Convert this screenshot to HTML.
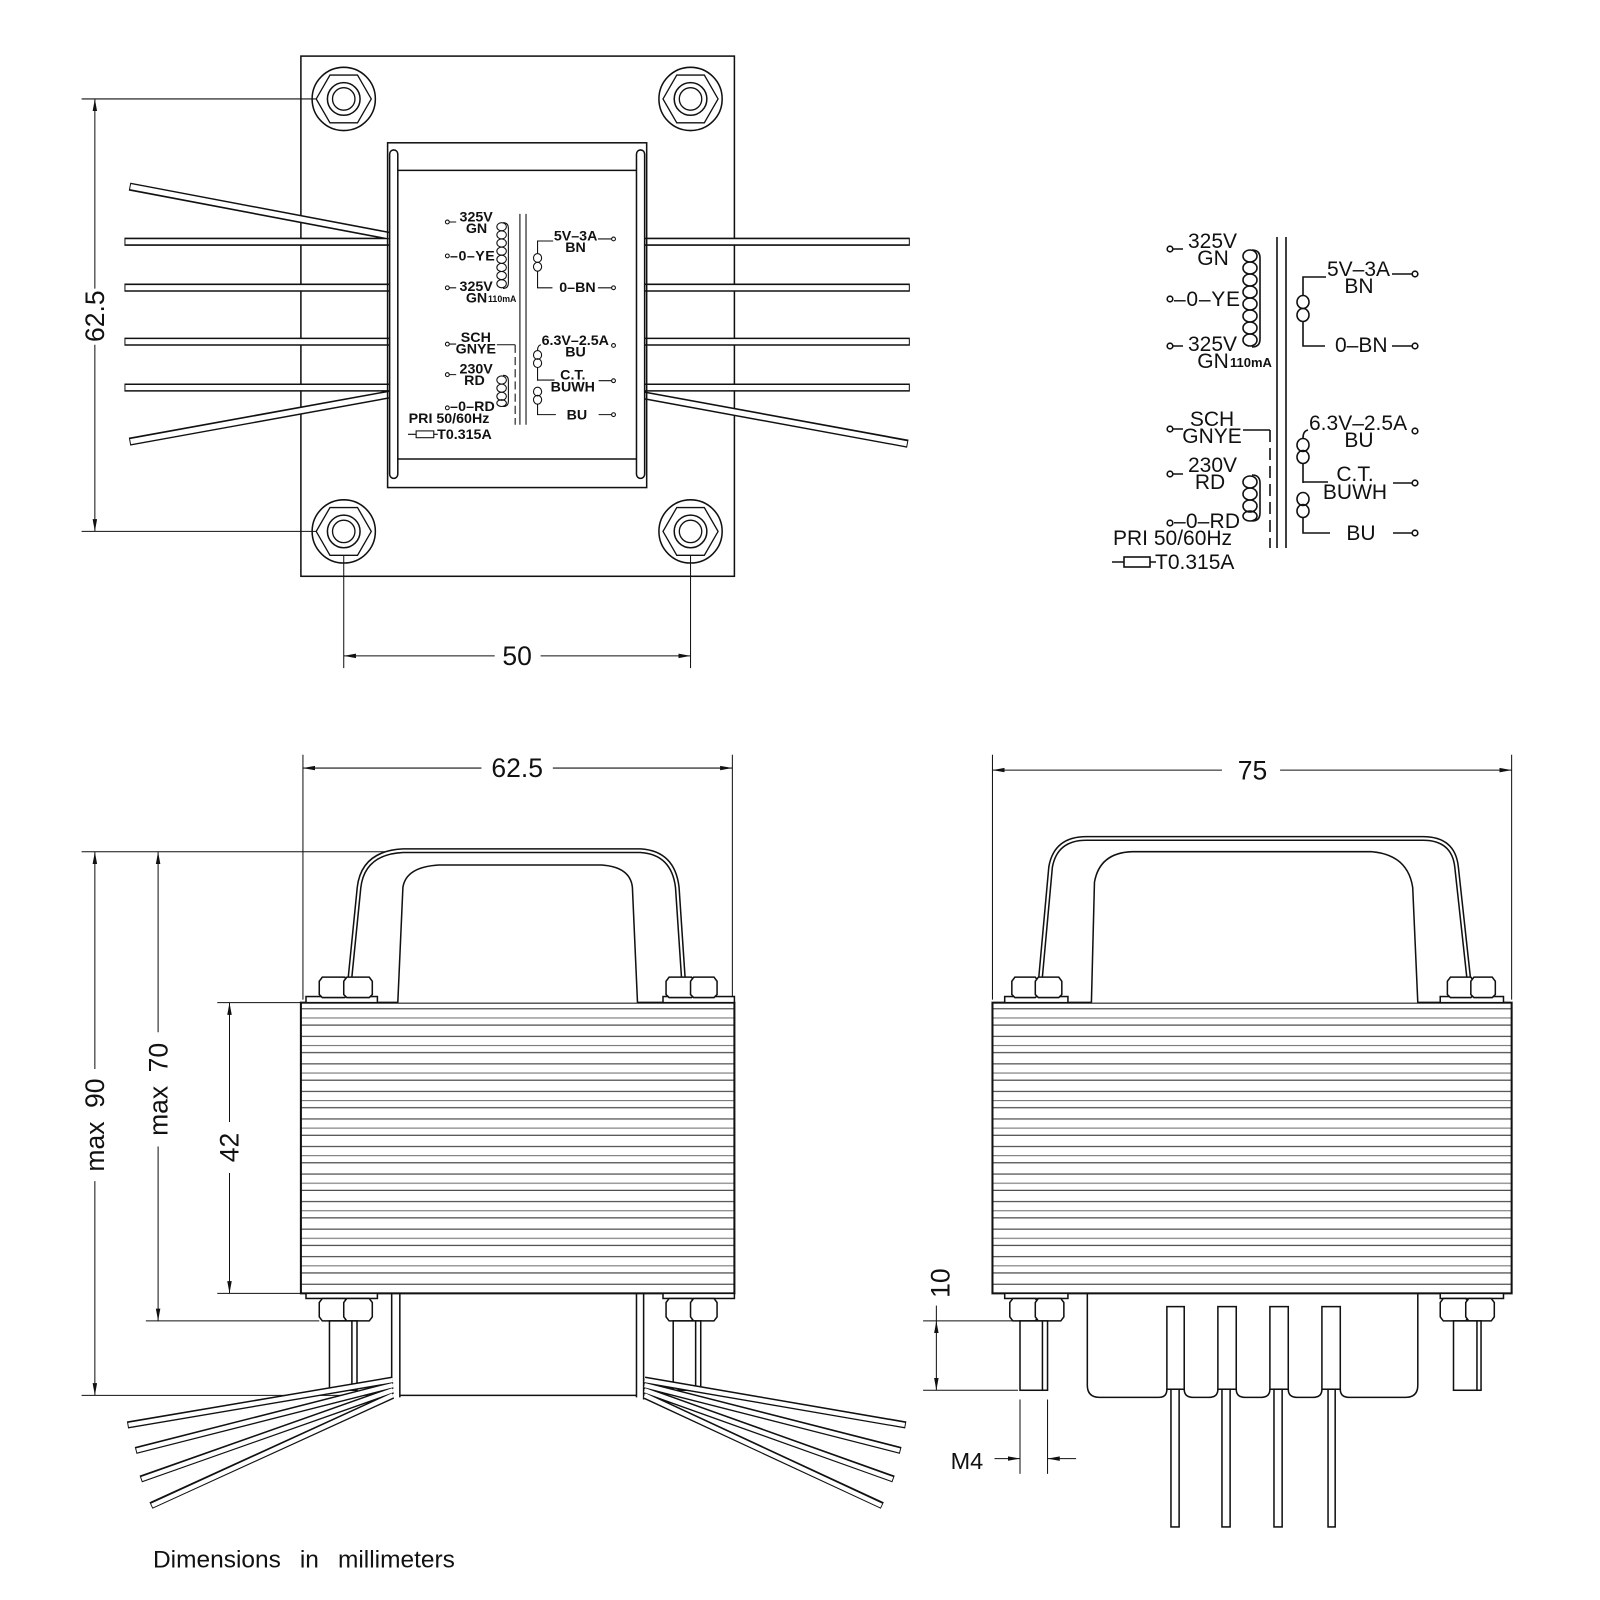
<!DOCTYPE html>
<html><head><meta charset="utf-8"><style>
html,body{margin:0;padding:0;background:#fff;}
svg{display:block;}
text{font-family:"Liberation Sans",sans-serif;fill:#111;}
</style></head><body>
<svg width="1600" height="1600" viewBox="0 0 1600 1600" xmlns="http://www.w3.org/2000/svg">
<defs>
<marker id="ar" viewBox="0 0 12 6" refX="12" refY="3" markerWidth="12" markerHeight="6" markerUnits="userSpaceOnUse" orient="auto-start-reverse"><path d="M0,0.8 L12,3 L0,5.2z" fill="#111"/></marker>
<pattern id="lam" patternUnits="userSpaceOnUse" x="0" y="983" width="20" height="27">
<line x1="0" y1="6" x2="20" y2="6" stroke="#222" stroke-width="1"/>
<line x1="0" y1="15" x2="20" y2="15" stroke="#777" stroke-width="1"/>
<line x1="0" y1="22" x2="20" y2="22" stroke="#333" stroke-width="1"/>
</pattern>
<g id="nutTop">
<circle r="31" fill="none" stroke="#111" stroke-width="1.5"/>
<polygon points="27,0 13.5,23.4 -13.5,23.4 -27,0 -13.5,-23.4 13.5,-23.4" fill="none" stroke="#111" stroke-width="1.3"/>
<circle r="16" fill="none" stroke="#111" stroke-width="1.5"/>
<circle r="11" fill="none" stroke="#111" stroke-width="1.3"/>
</g>
<g id="schem" fill="none" stroke="#111" stroke-width="1.6">
<line x1="1277" y1="237" x2="1277" y2="548"/><line x1="1286" y1="237" x2="1286" y2="548"/>
<g fill="#fff"><circle cx="1170" cy="249" r="2.8"/><circle cx="1170" cy="299" r="2.8"/><circle cx="1170" cy="346" r="2.8"/><circle cx="1170" cy="429" r="2.8"/><circle cx="1170" cy="474" r="2.8"/><circle cx="1170" cy="523" r="2.8"/>
<circle cx="1415" cy="274" r="2.8"/><circle cx="1415" cy="346" r="2.8"/><circle cx="1415" cy="431" r="2.8"/><circle cx="1415" cy="483" r="2.8"/><circle cx="1415" cy="533" r="2.8"/></g>
<path d="M1173,249h10 M1173,346h10 M1173,429h10 M1173,474h10 M1392,274h20 M1392,346h20 M1393,483h19 M1393,533h19"/>
<g><ellipse cx="1250" cy="256" rx="7" ry="6"/><ellipse cx="1250" cy="268" rx="7" ry="6"/><ellipse cx="1250" cy="280" rx="7" ry="6"/><ellipse cx="1250" cy="292" rx="7" ry="6"/><ellipse cx="1250" cy="304" rx="7" ry="6"/><ellipse cx="1250" cy="316" rx="7" ry="6"/><ellipse cx="1250" cy="328" rx="7" ry="6"/><ellipse cx="1250" cy="340" rx="7" ry="6"/></g>
<path d="M1252,250Q1260,250 1260,258V339Q1260,347 1252,347"/>
<g><ellipse cx="1250" cy="482" rx="7" ry="6"/><ellipse cx="1250" cy="494" rx="7" ry="6"/><ellipse cx="1250" cy="506" rx="7" ry="6"/><ellipse cx="1250" cy="516" rx="7" ry="5"/></g>
<path d="M1252,475Q1260,475 1260,483V513Q1260,521 1252,521"/>
<path d="M1326,277H1303V295 M1303,322V346H1325"/>
<ellipse cx="1303" cy="302" rx="6" ry="6.5"/><ellipse cx="1303" cy="315" rx="6" ry="6.5"/>
<path d="M1308,430Q1303,431 1303,438 M1303,463V483 M1303,482H1328 M1303,518V533H1330"/>
<ellipse cx="1303" cy="445" rx="6" ry="6.5"/><ellipse cx="1303" cy="457" rx="6" ry="6.5"/>
<ellipse cx="1303" cy="499" rx="6" ry="6.5"/><ellipse cx="1303" cy="511" rx="6" ry="6.5"/>
<path d="M1243,430H1270"/>
<line x1="1270" y1="430" x2="1270" y2="548" stroke-dasharray="12,6"/>
<path d="M1112,562H1124 M1150,562H1156"/><rect x="1124" y="557" width="26" height="10"/>
</g>
<g id="schemText" font-size="21" stroke="none">
<text x="1188" y="248">325V</text>
<text x="1213" y="265" text-anchor="middle">GN</text>
<text x="1174" y="306" textLength="66">–0–YE</text>
<text x="1188" y="351">325V</text>
<text x="1213" y="368" text-anchor="middle">GN</text>
<text x="1230" y="367" font-size="13" font-weight="bold">110mA</text>
<text x="1327" y="276">5V–3A</text>
<text x="1359" y="293" text-anchor="middle">BN</text>
<text x="1335" y="352">0–BN</text>
<text x="1309" y="430">6.3V–2.5A</text>
<text x="1359" y="447" text-anchor="middle">BU</text>
<text x="1355" y="481" text-anchor="middle">C.T.</text>
<text x="1355" y="499" text-anchor="middle">BUWH</text>
<text x="1361" y="540" text-anchor="middle">BU</text>
<text x="1212" y="426" text-anchor="middle">SCH</text>
<text x="1212" y="443" text-anchor="middle">GNYE</text>
<text x="1188" y="472">230V</text>
<text x="1210" y="489" text-anchor="middle">RD</text>
<text x="1174" y="528" textLength="66">–0–RD</text>
<text x="1113" y="545">PRI  50/60Hz</text>
<text x="1155" y="569">T0.315A</text>
</g>
</defs>

<use href="#schem"/>
<use href="#schemText"/>

<g transform="scale(1.02)" fill="none" stroke="#111" stroke-width="1.5">
<rect x="295" y="55" width="425" height="510"/>
<use href="#nutTop" x="337" y="97"/><use href="#nutTop" x="677" y="97"/>
<use href="#nutTop" x="337" y="521"/><use href="#nutTop" x="677" y="521"/>
<g stroke-linecap="butt">
<g stroke="#111" stroke-width="8">
<path d="M122,237H386 M122,282H386 M122,335H386 M122,380H386 M127,183L386,232 M127,433L386,386"/>
<path d="M628,237H892 M628,282H892 M628,335H892 M628,380H892 M628,387L890,435"/>
</g>
<g stroke="#fff" stroke-width="5">
<path d="M123,237H386 M123,282H386 M123,335H386 M123,380H386 M128,183L386,232 M128,433L386,386"/>
<path d="M628,237H891 M628,282H891 M628,335H891 M628,380H891 M628,387L889,435"/>
</g>
</g>
<rect x="380" y="140" width="254" height="338" fill="none"/>
<rect x="382" y="147" width="8" height="322" rx="4" fill="#fff"/>
<rect x="624" y="147" width="8" height="322" rx="4" fill="#fff"/>
<path d="M390,167H624 M390,450H624"/>
<g transform="translate(400,207) scale(0.665) translate(-1112,-233)">
<use href="#schem"/>
<use href="#schemText" style="font-weight:bold"/>
</g>
<g stroke-width="1">
<path d="M80,97H310 M80,521H310 M337,545V655 M677,545V655"/>
<line x1="93" y1="97" x2="93" y2="283" marker-start="url(#ar)"/>
<line x1="93" y1="338" x2="93" y2="521" marker-end="url(#ar)"/>
<line x1="337" y1="643" x2="485" y2="643" marker-start="url(#ar)"/>
<line x1="530" y1="643" x2="677" y2="643" marker-end="url(#ar)"/>
</g>

<g stroke-width="1">
<path d="M297,740V980 M718,740V980"/>
<line x1="297" y1="753" x2="472" y2="753" marker-start="url(#ar)"/>
<line x1="542" y1="753" x2="718" y2="753" marker-end="url(#ar)"/>
<path d="M80,835H640 M80,1368H385 M143,1295H313 M213,983H295 M213,1268H295"/>
<line x1="93" y1="835" x2="93" y2="1048" marker-start="url(#ar)"/>
<line x1="93" y1="1158" x2="93" y2="1368" marker-end="url(#ar)"/>
<line x1="155" y1="835" x2="155" y2="1012" marker-start="url(#ar)"/>
<line x1="155" y1="1124" x2="155" y2="1295" marker-end="url(#ar)"/>
<line x1="225" y1="983" x2="225" y2="1100" marker-start="url(#ar)"/>
<line x1="225" y1="1150" x2="225" y2="1268" marker-end="url(#ar)"/>
</g>
<rect x="295" y="983" width="425" height="285" fill="url(#lam)" stroke-width="2"/>
<path d="M343,960L352,870Q356,836 395,834L628,834Q660,836 664,870L670,960" stroke-width="5"/>
<path d="M343,960L352,870Q356,836 395,834L628,834Q660,836 664,870L670,960" stroke="#fff" stroke-width="2"/>
<path d="M390,983L395,870Q398,850 430,848L590,848Q618,850 620,870L625,983" fill="#fff"/>
<g fill="#fff">
<rect x="300" y="977" width="70" height="6"/><rect x="650" y="977" width="70" height="6"/>
<path d="M316,958h22l3,4v13l-3,3h-22l-3,-3v-13z"/><path d="M340,958h22l3,4v13l-3,3h-22l-3,-3v-13z"/>
<path d="M656,958h22l3,4v13l-3,3h-22l-3,-3v-13z"/><path d="M680,958h20l3,4v13l-3,3h-20l-3,-3v-13z"/>
<rect x="300" y="1268" width="70" height="5"/><rect x="650" y="1268" width="70" height="5"/>
<path d="M316,1273h22l3,4v14l-3,4h-22l-3,-4v-14z"/><path d="M340,1273h22l3,4v14l-3,4h-22l-3,-4v-14z"/>
<path d="M656,1273h22l3,4v14l-3,4h-22l-3,-4v-14z"/><path d="M680,1273h20l3,4v14l-3,4h-20l-3,-4v-14z"/>
<rect x="323" y="1295" width="27" height="68"/><rect x="660" y="1295" width="27" height="68"/>
</g>
<path d="M345,1295V1363 M682,1295V1363"/>
<path d="M384,1268V1372 M392,1268V1370 M624,1268V1370 M631,1268V1372 M392,1368H624"/>
<g stroke-width="7"><path d="M385,1353L125,1397 M385,1358L133,1422 M385,1363L138,1450 M385,1368L148,1476 M632,1353L888,1397 M632,1358L883,1422 M632,1363L876,1450 M632,1368L865,1476"/></g>
<g stroke="#fff" stroke-width="4.2"><path d="M385,1353L126,1397 M385,1358L134,1422 M385,1363L139,1450 M385,1368L149,1476 M632,1353L887,1397 M632,1358L882,1422 M632,1363L875,1450 M632,1368L864,1476"/></g>

<g stroke-width="1">
<path d="M973,740V980 M1482,740V980"/>
<line x1="973" y1="755" x2="1198" y2="755" marker-start="url(#ar)"/>
<line x1="1255" y1="755" x2="1482" y2="755" marker-end="url(#ar)"/>
<path d="M905,1295H995 M905,1363H998 M1000,1372V1445 M1027,1372V1445"/>
<line x1="918" y1="1280" x2="918" y2="1295" />
<line x1="918" y1="1295" x2="918" y2="1363" marker-start="url(#ar)" marker-end="url(#ar)"/>
<line x1="975" y1="1430" x2="1000" y2="1430" marker-end="url(#ar)"/>
<line x1="1055" y1="1430" x2="1027" y2="1430" marker-end="url(#ar)"/>
</g>
<rect x="973" y="983" width="509" height="285" fill="url(#lam)" stroke-width="2"/>
<path d="M1020,960L1030,850Q1035,822 1065,822L1395,822Q1425,822 1428,850L1440,960" stroke-width="5"/>
<path d="M1020,960L1030,850Q1035,822 1065,822L1395,822Q1425,822 1428,850L1440,960" stroke="#fff" stroke-width="2"/>
<path d="M1070,983L1073,865Q1078,836 1110,835L1345,835Q1380,838 1385,870L1390,983" fill="#fff"/>
<g fill="#fff">
<rect x="985" y="977" width="62" height="6"/><rect x="1412" y="977" width="62" height="6"/>
<path d="M995,958h20l3,4v13l-3,3h-20l-3,-3v-13z"/><path d="M1018,958h20l3,4v13l-3,3h-20l-3,-3v-13z"/>
<path d="M1422,958h20l3,4v13l-3,3h-20l-3,-3v-13z"/><path d="M1445,958h18l3,4v13l-3,3h-18l-3,-3v-13z"/>
<rect x="985" y="1268" width="62" height="5"/><rect x="1412" y="1268" width="62" height="5"/>
<path d="M993,1273h22l3,4v14l-3,4h-22l-3,-4v-14z"/><path d="M1018,1273h22l3,4v14l-3,4h-22l-3,-4v-14z"/>
<path d="M1415,1273h22l3,4v14l-3,4h-22l-3,-4v-14z"/><path d="M1440,1273h22l3,4v14l-3,4h-22l-3,-4v-14z"/>
<rect x="1000" y="1295" width="27" height="68"/><rect x="1425" y="1295" width="27" height="68"/>
</g>
<path d="M1022,1295V1363 M1448,1295V1363"/>
<path d="M1066,1268V1358Q1066,1370 1078,1370H1136Q1144,1370 1144,1362 M1161,1362Q1161,1370 1170,1370H1185Q1194,1370 1194,1362 M1212,1362Q1212,1370 1221,1370H1236Q1245,1370 1245,1362 M1263,1362Q1263,1370 1272,1370H1287Q1296,1370 1296,1362 M1314,1362Q1314,1370 1323,1370H1378Q1390,1370 1390,1358V1268"/>
<g fill="#fff">
<rect x="1144" y="1281" width="17" height="81"/><rect x="1194" y="1281" width="18" height="81"/>
<rect x="1245" y="1281" width="18" height="81"/><rect x="1296" y="1281" width="18" height="81"/>
<rect x="1148" y="1362" width="8" height="135"/><rect x="1198" y="1362" width="8" height="135"/>
<rect x="1249" y="1362" width="8" height="135"/><rect x="1302" y="1362" width="7" height="135"/>
</g>

<g stroke="none" fill="#111" font-size="26">
<text x="93" y="310" transform="rotate(-90 93 310)" text-anchor="middle" dy="9">62.5</text>
<text x="507" y="652" text-anchor="middle">50</text>
<text x="507" y="762" text-anchor="middle">62.5</text>
<text x="1228" y="764" text-anchor="middle">75</text>
<text x="93" y="1103" transform="rotate(-90 93 1103)" text-anchor="middle" dy="9" word-spacing="6">max  90</text>
<text x="155" y="1068" transform="rotate(-90 155 1068)" text-anchor="middle" dy="9" word-spacing="6">max  70</text>
<text x="225" y="1125" transform="rotate(-90 225 1125)" text-anchor="middle" dy="9">42</text>
<text x="922" y="1258" transform="rotate(-90 922 1258)" text-anchor="middle" dy="9">10</text>
<text x="932" y="1440" font-size="23">M4</text>
<text x="150" y="1537" font-size="24" word-spacing="12">Dimensions in millimeters</text>
</g>
</g>
</svg>
</body></html>
